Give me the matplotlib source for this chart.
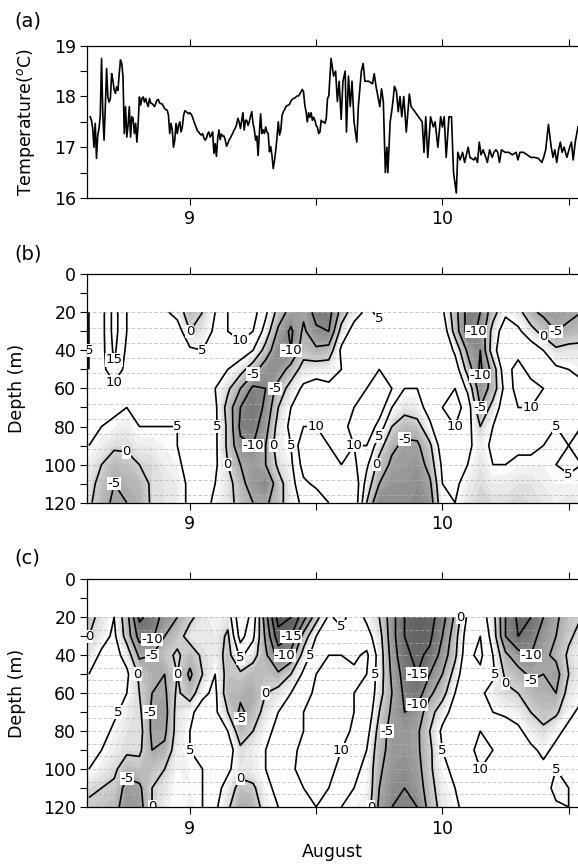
import numpy as np
import matplotlib
matplotlib.use("Agg")
import matplotlib.pyplot as plt
from matplotlib.colors import LinearSegmentedColormap
from matplotlib.ticker import FixedLocator, NullFormatter

plt.rcParams['font.family'] = ['DejaVu Sans']

# ---------------- (a) temperature series ----------------
# part 1: sampled every 0.005 day starting 8.605
temp_start = 8.605
temp_step = 0.005
temp_a = [17.60, 17.53, 17.37, 17.00, 17.47, 16.78, 17.24, 17.37, 17.63, 18.75,
          17.66, 17.14, 17.80, 18.55, 17.99, 17.89, 17.96, 18.45, 18.32, 18.13,
          18.06, 18.19, 18.12, 18.45, 18.72, 18.65, 18.39, 17.27, 17.80, 17.20,
          17.43, 17.80, 17.20, 17.60, 17.57, 17.27, 17.47, 17.10, 17.47, 17.99,
          17.83, 17.96, 17.99, 17.89, 17.96, 17.86, 17.80, 17.96, 17.87, 17.86,
          17.83, 17.80, 17.87, 17.93, 17.94, 17.87, 17.86, 17.85, 17.81, 17.76,
          17.74, 17.73, 17.63, 17.27, 17.47, 17.34, 17.00, 17.14, 17.47, 17.27,
          17.43, 17.50, 17.30, 17.40, 17.63, 17.72, 17.70, 17.68, 17.66, 17.68,
          17.65, 17.60, 17.52, 17.45, 17.39, 17.32, 17.30, 17.26, 17.24, 17.27,
          17.19, 17.14, 17.17, 17.26,
          17.30, 17.20, 17.24, 17.30, 16.88, 17.07, 16.82, 17.17, 17.34, 17.15,
          17.26, 17.22, 17.22, 17.14, 17.02, 17.07, 17.14, 17.18, 17.23, 17.28,
          17.34, 17.38, 17.45, 17.57, 17.50, 17.37, 17.53, 17.68, 17.34, 17.53,
          17.53, 17.43, 17.50, 17.61, 17.70, 17.47, 17.35, 17.14, 17.22, 16.84,
          17.27, 17.66, 17.27, 17.34, 17.27, 17.40, 17.30, 17.27, 16.91, 17.01,
          16.84, 16.58, 16.74, 16.94, 17.20, 17.50, 17.24, 17.34, 17.63, 17.70,
          17.74, 17.80, 17.82, 17.83, 17.85, 17.91, 17.94, 17.96, 17.97, 17.99,
          18.01, 18.01, 18.05, 18.09, 18.14, 18.09, 17.83, 17.70, 17.50, 17.68,
          17.59, 17.68, 17.53, 17.59, 17.53, 17.43, 17.39, 17.27, 17.30, 17.53,
          17.50, 17.50, 17.47, 17.57, 17.96, 18.01]
# part 2: read vertices (day, degC)
time_b = [9.559, 9.569, 9.577, 9.584, 9.591, 9.599, 9.606, 9.615, 9.620, 9.628,
          9.635, 9.642, 9.650, 9.661, 9.667, 9.679, 9.686, 9.693, 9.708, 9.723,
          9.730, 9.737, 9.752, 9.759, 9.766, 9.774, 9.780, 9.784, 9.793, 9.799,
          9.804, 9.810, 9.818, 9.825, 9.832, 9.839, 9.847, 9.857, 9.869, 9.876,
          9.891, 9.905, 9.920, 9.927, 9.934, 9.942, 9.953, 9.964, 9.971, 9.982,
          9.993, 10.000, 10.007, 10.015, 10.026, 10.036, 10.044, 10.055, 10.061, 10.070,
          10.080, 10.088, 10.095, 10.102, 10.109, 10.124, 10.131, 10.139, 10.146, 10.153,
          10.161, 10.172, 10.178, 10.187, 10.197, 10.204, 10.212, 10.219, 10.226, 10.234,
          10.248, 10.263, 10.277, 10.292, 10.299, 10.307, 10.321, 10.336, 10.350, 10.365,
          10.380, 10.394, 10.401, 10.409, 10.420, 10.431, 10.438, 10.445, 10.453, 10.460,
          10.467, 10.474, 10.482, 10.493, 10.504, 10.511, 10.518, 10.526, 10.537]
temp_b = [18.75, 18.40, 18.50, 17.90, 18.30, 17.55, 18.30, 18.50, 17.30, 18.40,
          17.80, 18.30, 17.50, 17.10, 17.80, 18.50, 18.65, 18.30, 18.30, 18.25,
          18.45, 18.20, 17.80, 18.15, 17.90, 16.50, 17.00, 16.50, 17.50, 17.70,
          17.90, 18.20, 18.10, 17.70, 18.00, 17.60, 18.00, 17.30, 18.05, 17.80,
          17.70, 17.60, 17.50, 16.90, 17.60, 16.80, 17.60, 17.40, 17.50, 17.00,
          17.60, 17.40, 17.60, 16.80, 17.60, 17.60, 16.50, 16.10, 16.90, 16.75,
          16.90, 16.70, 16.85, 17.00, 16.80, 16.75, 16.80, 16.70, 17.10, 16.85,
          16.95, 16.80, 16.70, 16.95, 16.80, 16.90, 16.95, 16.90, 16.70, 16.95,
          16.90, 16.90, 16.85, 16.90, 16.75, 16.90, 16.90, 16.85, 16.80, 16.80,
          16.78, 16.70, 16.80, 16.95, 17.45, 17.00, 16.80, 16.95, 16.70, 16.95,
          17.10, 16.90, 17.00, 16.80, 17.00, 17.10, 16.75, 17.10, 17.40]

# ---------------- (b), (c) velocity sections ----------------
section_days = [8.60, 8.65, 8.70, 8.75, 8.80, 8.85, 8.90, 8.95, 9.00, 9.05,
                9.10, 9.15, 9.20, 9.25, 9.30, 9.35, 9.40, 9.45, 9.50, 9.55,
                9.60, 9.65, 9.70, 9.75, 9.80, 9.85, 9.90, 9.95, 10.00, 10.05,
                10.10, 10.15, 10.20, 10.25, 10.30, 10.35, 10.40, 10.45, 10.50, 10.55]
section_depths = [20, 30, 40, 50, 60, 70, 80, 90, 100, 110, 120]

# one profile (20..120 m) per day column
b_profiles = [
    [5, 5, 5, 5, 6, 6, 6, 5, 3, 2, 1],
    [8, 8, 8, 8, 8, 7, 5, 3, 0, -2, -3],
    [17, 17, 16, 14, 8, 6, 4, 1, -3, -5, -6],
    [10, 10, 9, 8, 7, 5, 3, 1, -2, -4, -5],
    [6, 9, 8, 7, 7, 6, 5, 3, 0, -3, -4],
    [5, 7, 6, 7, 6, 7, 5, 3, 1, 1, 1],
    [6, 8, 6, 9, 7, 6, 5, 4, 3, 2, 2],
    [3, 8, 7, 6, 8, 7, 5, 5, 4, 3, 3],
    [-3, 0, 6, 8, 6, 6, 7, 7, 7, 6, 6],
    [0, 2, 5, 7, 7, 6, 6, 8, 8, 7, 7],
    [5, 6, 8, 6, 5, 6, 6, 6, 6, 5, 4],
    [10, 10, 8, 5, 1, -2, -1, -1, 0, 2, 2],
    [14, 12, 8, 2, -5, -10, -11, -9, -5, -3, -2],
    [12, 10, 5, -3, -11, -13, -12, -10, -7, -8, -5],
    [6, 3, -2, -8, -10, -9, -7, -5, -5, -10, -6],
    [-2, -6, -9, -8, -3, 0, 2, 3, 1, -2, -2],
    [-7, -11, -10, -3, 2, 5, 6, 5, 4, 3, 3],
    [-6, -4, -2, 2, 6, 8, 10, 14, 12, 9, 6],
    [-12, -9, -4, 3, 7, 9, 10, 12, 14, 11, 7],
    [-12, -10, -3, 3, 6, 8, 8, 10, 11, 12, 10],
    [-3, 2, 6, 5, 7, 8, 8, 9, 10, 12, 12],
    [3, 7, 8, 7, 8, 10, 12, 10, 11, 14, 14],
    [6, 9, 10, 9, 10, 12, 14, 10, 6, 3, 0],
    [4, 7, 10, 10, 11, 13, 8, 2, -2, -5, -10],
    [7, 8, 10, 9, 10, 5, 0, -4, -6, -8, -8],
    [8, 9, 9, 8, 5, 2, -3, -6, -7, -8, -8],
    [9, 10, 8, 6, 5, 3, -2, -6, -8, -9, -10],
    [8, 10, 9, 5, 6, 7, 4, -1, -3, -6, -8],
    [6, 9, 10, 7, 8, 10, 10, 8, 6, 5, 4],
    [-3, -2, 4, 8, 10, 12, 10, 9, 8, 6, 5],
    [-12, -12, -6, -2, 4, 8, 7, 6, 5, 3, 2],
    [-10, -9, -10, -11, -8, -5, 0, 3, 2, 1, 0],
    [-2, 2, 3, -3, -3, 2, 5, 6, 5, 3, 1],
    [4, 8, 10, 9, 7, 8, 8, 7, 5, 3, 1],
    [2, 6, 9, 11, 12, 10, 8, 6, 4, 2, 0],
    [-4, 2, 8, 9, 11, 10, 8, 6, 4, 2, 1],
    [-6, -2, 5, 8, 10, 8, 6, 5, 4, 3, 2],
    [-7, -5, 1, 6, 7, 6, 5, 5, 5, 4, 3],
    [-6, -4, 2, 5, 6, 7, 6, 5, 6, 4, 2],
    [-5, -3, 2, 4, 6, 6, 5, 5, 5, 4, 3],
]

c_profiles = [
    [-2, 0, 2, 5, 8, 10, 10, 8, 5, 1, -1],
    [2, 3, 6, 8, 10, 10, 7, 5, 3, 0, -2],
    [5, 6, 7, 8, 8, 6, 4, 3, 1, -1, -3],
    [-3, -2, 3, 6, 5, 3, 2, 1, -3, -7, -8],
    [-16, -12, -6, -1, 0, 1, 2, 1, -2, -6, -7],
    [-13, -11, -5, -4, -5, -6, -6, -5, -2, 0, 0],
    [-8, -5, -2, -5, -6, -7, -6, -4, 0, 2, 3],
    [-5, -2, 1, 0, 1, 2, 2, 3, 4, 5, 5],
    [-1, 2, -3, -6, -3, 4, 5, 5, 4, 4, 3],
    [2, 3, 1, 0, 4, 7, 8, 7, 5, 5, 5],
    [4, 3, 3, 5, 6, 6, 10, 8, 6, 7, 6],
    [2, -1, -2, -2, -3, 0, 5, 8, 6, 3, 1],
    [14, 12, 6, -1, -4, -6, -3, 1, 2, -2, -5],
    [8, 6, 2, -3, -5, -3, 0, 3, 3, -1, -4],
    [-8, -6, -4, -2, 0, 2, 4, 5, 5, 4, 3],
    [-22, -18, -12, -4, 2, 5, 6, 7, 6, 6, 5],
    [-20, -15, -8, 0, 5, 7, 8, 9, 9, 8, 7],
    [-12, -3, 2, 6, 8, 10, 10, 11, 12, 10, 9],
    [-2, 5, 8, 10, 11, 12, 13, 15, 14, 11, 10],
    [6, 8, 10, 11, 11, 12, 13, 12, 12, 10, 8],
    [3, 7, 10, 12, 12, 13, 12, 10, 8, 6, 5],
    [8, 6, 9, 11, 10, 10, 9, 7, 6, 5, 4],
    [4, 7, 11, 10, 10, 9, 7, 5, 4, 4, 3],
    [0, 2, 3, 3, 2, 0, -2, -3, -4, -5, -6],
    [-8, -8, -7, -6, -5, -6, -7, -7, -8, -9, -10],
    [-15, -15, -14, -12, -11, -10, -8, -8, -9, -10, -11],
    [-18, -17, -16, -15, -13, -8, -6, -6, -7, -8, -10],
    [-17, -16, -14, -10, -6, -2, 0, -1, -1, -2, -3],
    [-12, -10, -8, -5, -2, 3, 6, 5, 4, 3, 2],
    [-4, -2, -1, 2, 5, 7, 8, 7, 6, 5, 4],
    [6, 8, 9, 10, 9, 10, 10, 9, 8, 8, 7],
    [8, 10, 11, 9, 6, 8, 10, 11, 10, 9, 8],
    [2, 3, 5, 6, 3, 5, 8, 10, 9, 8, 6],
    [-10, -10, -4, -1, 1, 4, 8, 10, 10, 9, 7],
    [-16, -15, -8, -3, 0, 3, 6, 8, 9, 9, 8],
    [-15, -12, -10, -6, -3, 0, 3, 6, 8, 10, 9],
    [-10, -8, -6, -5, -4, -2, 1, 4, 6, 8, 8],
    [-6, -5, -4, -7, -5, -1, 4, 6, 5, 3, 6],
    [-2, -1, 1, 0, 2, 4, 6, 7, 6, 5, 5],
    [0, 2, 4, 3, 4, 6, 8, 8, 7, 6, 6],
]

contour_levels = [-20, -15, -10, -5, 0, 5, 10, 15]
bin_depths_b = [20, 28, 36, 44, 52, 60, 68, 76, 84, 92, 100, 108, 116]
bin_depths_c = [20, 26.7, 33.3, 40, 46.7, 53.3, 60, 66.7, 73.3, 80, 86.7,
                93.3, 100, 106.7, 113.3, 120]

x_major = [9, 10]
x_minor = [9.5, 10.5]
x_range = (8.594, 10.537)

# ---------------- figure ----------------
W, H = 578, 867
fig = plt.figure(figsize=(W / 100, H / 100), dpi=100)

def px_axes(left, top, right, bottom):
    return fig.add_axes([left / W, 1 - bottom / H, (right - left) / W, (bottom - top) / H])

ax_a = px_axes(87.4, 45.7, 578, 198.0)
ax_b = px_axes(87.4, 274.2, 578, 502.7)
ax_c = px_axes(87.4, 579.4, 578, 807.0)

FS = 12.5

def style_x(ax):
    ax.set_xlim(*x_range)
    ax.xaxis.set_major_locator(FixedLocator(x_major))
    ax.xaxis.set_minor_locator(FixedLocator(x_minor))
    ax.xaxis.set_minor_formatter(NullFormatter())
    ax.set_xticklabels([str(v) for v in x_major])
    ax.tick_params(axis='x', which='both', direction='out', length=5, width=0.8,
                   top=True, bottom=True, labelsize=FS, pad=4)
    ax.tick_params(axis='y', which='both', direction='out', length=5, width=0.8,
                   labelsize=FS, pad=3)
    ax.spines['right'].set_visible(False)
    for s in ['left', 'top', 'bottom']:
        ax.spines[s].set_linewidth(0.9)

# (a)
t_a = temp_start + temp_step * np.arange(len(temp_a))
t_all = np.concatenate([t_a, np.array(time_b)])
T_all = np.concatenate([np.array(temp_a), np.array(temp_b)])
ax_a.plot(t_all, T_all, color='black', lw=1.2)
ax_a.set_ylim(16, 19)
ax_a.yaxis.set_major_locator(FixedLocator([16, 17, 18, 19]))
ax_a.yaxis.set_minor_locator(FixedLocator([16.5, 17.5, 18.5]))
style_x(ax_a)
ax_a.set_ylabel(r'Temperature($^{o}$C)', fontsize=FS)
ax_a.yaxis.set_label_coords(-0.103, 0.5)

# shading colormap
vmin, vmax = -24, 24
def pos(v):
    return (v - vmin) / (vmax - vmin)
gray_cmap = LinearSegmentedColormap.from_list('shade', [
    (0.0, '0.30'), (pos(-15), '0.42'), (pos(-10), '0.53'), (pos(-5), '0.66'),
    (pos(0), '0.82'), (pos(3), '0.93'), (pos(5), '1.0'), (1.0, '1.0')])

all_labels = []

def section(ax, profiles, bins):
    Z = np.array(profiles, dtype=float).T
    X, Y = np.meshgrid(np.array(section_days), np.array(section_depths))
    ax.contourf(X, Y, Z, levels=np.arange(vmin, vmax + 1, 1), cmap=gray_cmap,
                vmin=vmin, vmax=vmax, extend='both')
    for d in bins:
        ax.axhline(d, color='0.7', lw=0.5, ls=(0, (5, 3)), zorder=2)
    cs = ax.contour(X, Y, Z, levels=contour_levels, colors='black', linewidths=1.2,
                    linestyles='solid', zorder=3)
    labels = ax.clabel(cs, fmt='%d', fontsize=9.5, inline=False)
    for lb in labels:
        lb.set_rotation(0)
        lb.set_zorder(5)
        lb.set_bbox(dict(facecolor='white', edgecolor='none', pad=0.2))
    all_labels.append(labels)
    ax.set_ylim(120, 0)
    ax.yaxis.set_major_locator(FixedLocator([0, 20, 40, 60, 80, 100, 120]))
    ax.yaxis.set_minor_locator(FixedLocator([10, 30, 50, 70, 90, 110]))
    style_x(ax)
    ax.set_ylabel('Depth (m)', fontsize=FS)
    ax.yaxis.set_label_coords(-0.125, 0.5)

section(ax_b, b_profiles, bin_depths_b)
section(ax_c, c_profiles, bin_depths_c)
ax_c.set_xlabel('August', fontsize=FS, labelpad=4)

for lab, ycen in [('(a)', 21), ('(b)', 254), ('(c)', 558)]:
    fig.text(14 / W, 1 - ycen / H, lab, fontsize=14, ha='left', va='center')

# drop contour labels that collide with one already kept
fig.canvas.draw()
renderer = fig.canvas.get_renderer()
for labels in all_labels:
    kept = []
    for lb in labels:
        bb = lb.get_window_extent(renderer).expanded(1.15, 1.2)
        if any(bb.overlaps(k) for k in kept):
            lb.remove()
        else:
            kept.append(bb)

fig.savefig('out.png', dpi=100)
